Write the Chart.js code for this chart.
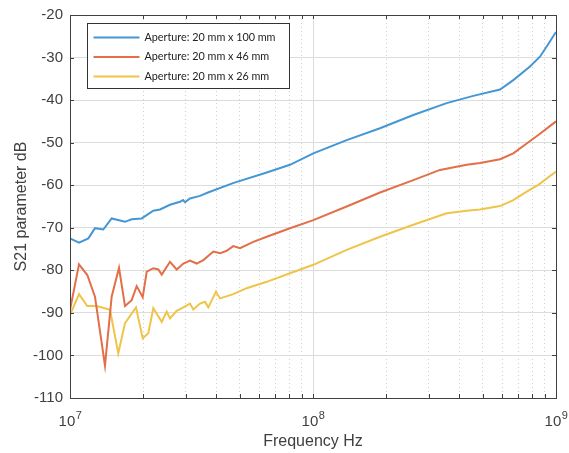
<!DOCTYPE html>
<html>
<head>
<meta charset="utf-8">
<script src="https://cdn.jsdelivr.net/npm/chart.js@4"></script>
<style>
  body { margin: 0; background: #fff; }
  canvas { display: block; }
</style>
</head>
<body>
<canvas id="s21Chart" width="569" height="453"></canvas>
<script>
// Series (frequency in Hz, S21 in dB)
var freqWide = [1.0e7, 1.089e7, 1.19e7, 1.267e7, 1.371e7, 1.484e7, 1.684e7, 1.794e7, 1.972e7, 2.202e7,
    2.347e7, 2.579e7, 2.836e7, 2.917e7, 2.973e7, 3.117e7, 3.428e7, 3.697e7, 4.686e7, 6.45e7,
    8.04e7, 1.003e8, 1.376e8, 1.887e8, 2.587e8, 3.549e8, 4.566e8, 5.884e8, 6.673e8, 7.816e8,
    8.59e8, 9.155e8, 1.0e9];
var s21Wide = [-72.5, -73.5, -72.5, -70.1, -70.4, -67.8, -68.6, -68, -67.8, -66,
    -65.7, -64.6, -63.9, -63.5, -64, -63.1, -62.5, -61.7, -59.5, -57,
    -55.2, -52.5, -49.4, -46.6, -43.5, -40.7, -39, -37.5, -35.3, -32.1,
    -29.8, -27.4, -24];

var freqMid = [1.0e7, 1.089e7, 1.178e7, 1.267e7, 1.393e7, 1.484e7, 1.591e7, 1.684e7, 1.794e7, 1.881e7,
    1.992e7, 2.069e7, 2.202e7, 2.309e7, 2.385e7, 2.579e7, 2.748e7, 2.926e7, 3.117e7, 3.322e7,
    3.538e7, 3.889e7, 4.142e7, 4.414e7, 4.699e7, 5.007e7, 5.68e7, 6.45e7, 8.04e7, 1.003e8,
    1.376e8, 1.887e8, 2.587e8, 3.331e8, 4.291e8, 4.867e8, 5.884e8, 6.673e8, 7.575e8, 8.457e8,
    1.0e9];
var s21Mid = [-89.3, -78.6, -81.1, -86.2, -102.4, -86.2, -79.4, -88.4, -87, -83.7,
    -86.3, -80.3, -79.5, -79.8, -81, -78, -79.8, -78.4, -77.7, -78.4,
    -77.6, -75.6, -76, -75.4, -74.3, -74.8, -73.3, -72.1, -70.1, -68.2,
    -65, -61.7, -58.8, -56.4, -55.2, -54.8, -53.9, -52.5, -50.2, -48.2,
    -45];

var freqNarrow = [1.0e7, 1.089e7, 1.178e7, 1.288e7, 1.461e7, 1.58e7, 1.684e7, 1.869e7, 1.992e7, 2.1e7,
    2.202e7, 2.385e7, 2.5e7, 2.579e7, 2.748e7, 2.926e7, 3.117e7, 3.217e7, 3.428e7, 3.594e7,
    3.708e7, 3.988e7, 4.142e7, 4.699e7, 5.33e7, 6.45e7, 8.04e7, 1.003e8, 1.376e8, 1.887e8,
    2.587e8, 3.549e8, 4.291e8, 4.867e8, 5.884e8, 6.673e8, 7.575e8, 8.457e8, 1.0e9];
var s21Narrow = [-90.5, -85.6, -88.4, -88.4, -89.3, -99.5, -92.4, -88.7, -96, -94.8,
    -88.9, -92.1, -89.7, -91.3, -89.5, -88.7, -87.8, -89.2, -87.8, -87.4,
    -88.7, -85, -86.6, -85.6, -84.2, -82.7, -80.7, -78.7, -75.2, -72.1,
    -69.3, -66.6, -66, -65.7, -64.9, -63.5, -61.5, -59.9, -56.8];

var seriesLabels = ["Aperture: 20 mm x 100 mm", "Aperture: 20 mm x 46 mm", "Aperture: 20 mm x 26 mm"];
var seriesColors = ["#4597d4", "#e26f48", "#eec449"];

var decades = [1e7, 1e8, 1e9];
var decadeExponents = ["7", "8", "9"];

// every 1..9 x 10^n position between the decades
var xTickValues = [];
decades.forEach(function (d, i) {
    if (i === decades.length - 1) { xTickValues.push(d); return; }
    for (var m = 1; m <= 9; m++) xTickValues.push(m * d);
});

function toPoints(xs, ys) {
    return xs.map(function (x, i) { return { x: x, y: ys[i] }; });
}

var textColor = "#404040";
var axisFont = "'Liberation Sans', Arial, sans-serif";

// Frame, inward ticks, decade labels and legend box drawn on top of the plot
var framePlugin = {
    id: "framePlugin",
    afterDraw: function (chart) {
        var ctx = chart.ctx;
        var a = chart.chartArea;
        var xs = chart.scales.x, ys = chart.scales.y;
        ctx.save();
        ctx.strokeStyle = textColor;
        ctx.lineWidth = 1;
        ctx.strokeRect(Math.round(a.left) + 0.5, Math.round(a.top) + 0.5,
            Math.round(a.right - a.left), Math.round(a.bottom - a.top));

        ctx.beginPath();
        xTickValues.forEach(function (v) {
            var px = Math.round(xs.getPixelForValue(v)) + 0.5;
            ctx.moveTo(px, a.bottom); ctx.lineTo(px, a.bottom - 4);
            ctx.moveTo(px, a.top); ctx.lineTo(px, a.top + 4);
        });
        ys.ticks.forEach(function (t) {
            var py = Math.round(ys.getPixelForValue(t.value)) + 0.5;
            ctx.moveTo(a.left, py); ctx.lineTo(a.left + 4, py);
            ctx.moveTo(a.right, py); ctx.lineTo(a.right - 4, py);
        });
        ctx.stroke();

        // decade labels 10^n with a raised exponent
        ctx.fillStyle = textColor;
        ctx.textBaseline = "alphabetic";
        ctx.textAlign = "left";
        decades.forEach(function (d, i) {
            var px = xs.getPixelForValue(d);
            ctx.font = "15px " + axisFont;
            var wBase = ctx.measureText("10").width;
            ctx.font = "11px " + axisFont;
            var wExp = ctx.measureText(decadeExponents[i]).width;
            var x0 = px - (wBase + wExp) / 2;
            ctx.font = "15px " + axisFont;
            ctx.fillText("10", x0, a.bottom + 28);
            ctx.font = "11px " + axisFont;
            ctx.fillText(decadeExponents[i], x0 + wBase + 0.5, a.bottom + 21);
        });

        // legend
        var lx = Math.round(a.left) + 17.5, ly = Math.round(a.top) + 8.5;
        var lw = 202, lh = 65;
        ctx.fillStyle = "#fff";
        ctx.fillRect(lx, ly, lw, lh);
        ctx.strokeStyle = "#333";
        ctx.strokeRect(lx, ly, lw, lh);
        ctx.font = "10.8px Lato, sans-serif";
        ctx.textBaseline = "middle";
        chart.data.datasets.forEach(function (ds, i) {
            var yy = ly + 14 + i * 19.5;
            ctx.strokeStyle = ds.borderColor;
            ctx.lineWidth = 2;
            ctx.beginPath();
            ctx.moveTo(lx + 6, yy); ctx.lineTo(lx + 52, yy);
            ctx.stroke();
            ctx.fillStyle = "#222";
            ctx.fillText(ds.label, lx + 57, yy);
        });
        ctx.restore();
    }
};

var chartData = {
    datasets: [
        { label: seriesLabels[0], data: toPoints(freqWide, s21Wide) },
        { label: seriesLabels[1], data: toPoints(freqMid, s21Mid) },
        { label: seriesLabels[2], data: toPoints(freqNarrow, s21Narrow) }
    ].map(function (ds, i) {
        ds.borderColor = seriesColors[i];
        ds.backgroundColor = seriesColors[i];
        ds.borderWidth = 2;
        ds.pointRadius = 0;
        ds.tension = 0;
        ds.fill = false;
        return ds;
    })
};

new Chart(document.getElementById("s21Chart").getContext("2d"), {
    type: "line",
    data: chartData,
    options: {
        responsive: false,
        animation: false,
        layout: { padding: { top: 15, right: 13, left: 0, bottom: 0 } },
        plugins: {
            legend: { display: false },
            tooltip: { enabled: false }
        },
        scales: {
            x: {
                type: "logarithmic",
                min: 1e7,
                max: 1e9,
                afterBuildTicks: function (scale) {
                    scale.ticks = xTickValues.map(function (v) {
                        return { value: v, major: decades.indexOf(v) >= 0 };
                    });
                },
                afterFit: function (scale) {
                    scale.height = 55;
                    scale.paddingLeft = 0;
                    scale.paddingRight = 0;
                },
                ticks: {
                    autoSkip: false,
                    maxRotation: 0,
                    callback: function () { return ""; }
                },
                grid: {
                    drawTicks: false,
                    color: function (c) {
                        return c.tick && decades.indexOf(c.tick.value) >= 0 ? "#dcdcdc" : "#cfcfcf";
                    }
                },
                border: {
                    color: textColor,
                    dash: function (c) {
                        if (!c.tick) return [];
                        return decades.indexOf(c.tick.value) >= 0 ? [] : [1, 3];
                    }
                },
                title: {
                    display: true,
                    text: "Frequency Hz",
                    color: textColor,
                    font: { family: axisFont, size: 16 },
                    padding: { top: 4, bottom: 2 }
                }
            },
            y: {
                min: -110,
                max: -20,
                afterFit: function (scale) {
                    scale.width = 70;
                    scale.paddingTop = 0;
                    scale.paddingBottom = 0;
                },
                ticks: {
                    stepSize: 10,
                    padding: 7,
                    color: textColor,
                    font: { family: axisFont, size: 15 }
                },
                grid: { drawTicks: false, color: "#dcdcdc" },
                border: { color: textColor },
                title: {
                    display: true,
                    text: "S21 parameter dB",
                    color: textColor,
                    font: { family: axisFont, size: 16 },
                    padding: { top: 12, bottom: 4 }
                }
            }
        }
    },
    plugins: [framePlugin]
});
</script>
</body>
</html>
